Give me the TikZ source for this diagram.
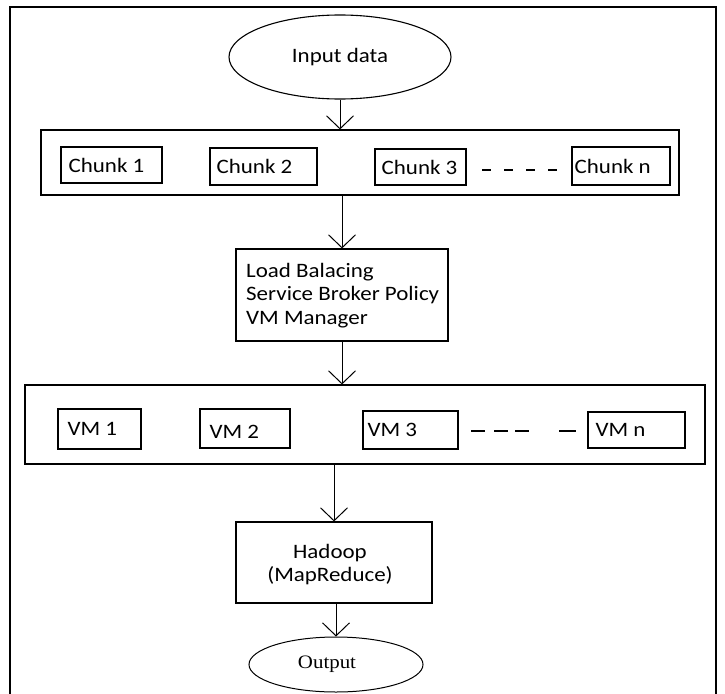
\documentclass[tikz,border=0pt]{standalone}
\usepackage{fontspec}
\newfontfamily\calfont{Carlito}[FakeStretch=1.12]
\newfontfamily\serfont{Liberation Serif}[FakeStretch=1.1]
\usetikzlibrary{arrows.meta,shapes.geometric}
\begin{document}
\begin{tikzpicture}[x=1pt,y=-1pt,
  grp/.style={draw, line width=1.1pt, inner sep=0pt},
  lbl/.style={inner sep=0pt, font=\calfont\fontsize{20.5}{23.5}\selectfont},
  arr/.style={line width=1pt, -{Straight Barb[length=13pt,width=27pt]}},
  dsh/.style={line width=1.1pt}]
\useasboundingbox (0,0) rectangle (725,693);
\fill[white] (0,0) rectangle (725,693);
% frame
\draw[line width=2.5pt] (10,710) -- (10,7) -- (716,7) -- (716,710);
% input
\node[ellipse, draw, line width=1.1pt, minimum width=222pt, minimum height=84pt, inner sep=0pt, font=\calfont\fontsize{20.5}{23.5}\selectfont] (in) at (340,57) {Input data};
% chunks
\node[grp, minimum width=638pt, minimum height=65pt] (chunks) at (360,162.5) {};
\node[grp, minimum width=101pt, minimum height=36pt] (c1) at (111.5,165) {};
\node[lbl, anchor=west] (c1t) at ([xshift=8pt]c1.west) {Chunk 1};
\node[grp, minimum width=107pt, minimum height=37pt] (c2) at (263.5,166.5) {};
\node[lbl, anchor=west] (c2t) at ([xshift=7pt]c2.west) {Chunk 2};
\node[grp, minimum width=91pt, minimum height=36pt] (c3) at (420.5,167) {};
\node[lbl, anchor=west] (c3t) at ([xshift=7pt]c3.west) {Chunk 3};
\node[grp, minimum width=98pt, minimum height=38pt] (cn) at (621,166) {};
\node[lbl, anchor=west] (cnt) at ([xshift=3pt]cn.west) {Chunk n};
\coordinate (d1a) at (482,170);
\coordinate (d1b) at (559,170);
\draw[dsh, dash pattern=on 9pt off 13pt] (d1a) -- (d1b);
% load balancing
\node[grp, minimum width=212pt, minimum height=92pt] (lb) at (342,295) {};
\node[lbl, align=left, anchor=west] (lbt) at (246,295.5) {Load Balacing\\Service Broker Policy\\VM Manager};
% VMs
\node[grp, minimum width=680pt, minimum height=79pt] (vms) at (365,424.5) {};
\node[grp, minimum width=83pt, minimum height=40pt] (v1) at (99.5,429) {};
\node[lbl, anchor=west] (v1t) at ([xshift=10pt]v1.west) {VM 1};
\node[grp, minimum width=90pt, minimum height=39pt] (v2) at (245,428.5) {};
\node[lbl, anchor=west] (v2t) at ([xshift=10pt,yshift=-3pt]v2.west) {VM 2};
\node[grp, minimum width=95pt, minimum height=38pt] (v3) at (410.5,430) {};
\node[lbl, anchor=west] (v3t) at ([xshift=5pt]v3.west) {VM 3};
\node[grp, minimum width=97pt, minimum height=36pt] (vn) at (636.5,430) {};
\node[lbl, anchor=west] (vnt) at ([xshift=8pt]vn.west) {VM n};
\coordinate (d2a) at (471,431);
\coordinate (d2b) at (576,431);
\draw[dsh, dash pattern=on 14pt off 9pt on 14pt off 7pt on 14pt off 30pt on 17pt] (d2a) -- (d2b);
% hadoop
\node[grp, minimum width=196pt, minimum height=81pt] (hd) at (334,562.5) {};
\node[lbl, align=center] (hdt) at (330,564.5) {Hadoop\\(MapReduce)};
% output
\node[ellipse, draw, line width=1pt, minimum width=174pt, minimum height=55pt, inner sep=0pt] (out) at (336,664.5) {};
\node[inner sep=0pt, font=\serfont\fontsize{19}{22}\selectfont] (outt) at (327,664) {Output};
% arrows
\draw[arr] (in.south) -- (in.south |- chunks.north);
\draw[arr] (lb.north |- chunks.south) -- (lb.north);
\draw[arr] (lb.south) -- (lb.south |- vms.north);
\draw[arr] (hd.north |- vms.south) -- (hd.north);
\draw[arr] (out.north |- hd.south) -- (out.north);
\end{tikzpicture}
\end{document}
